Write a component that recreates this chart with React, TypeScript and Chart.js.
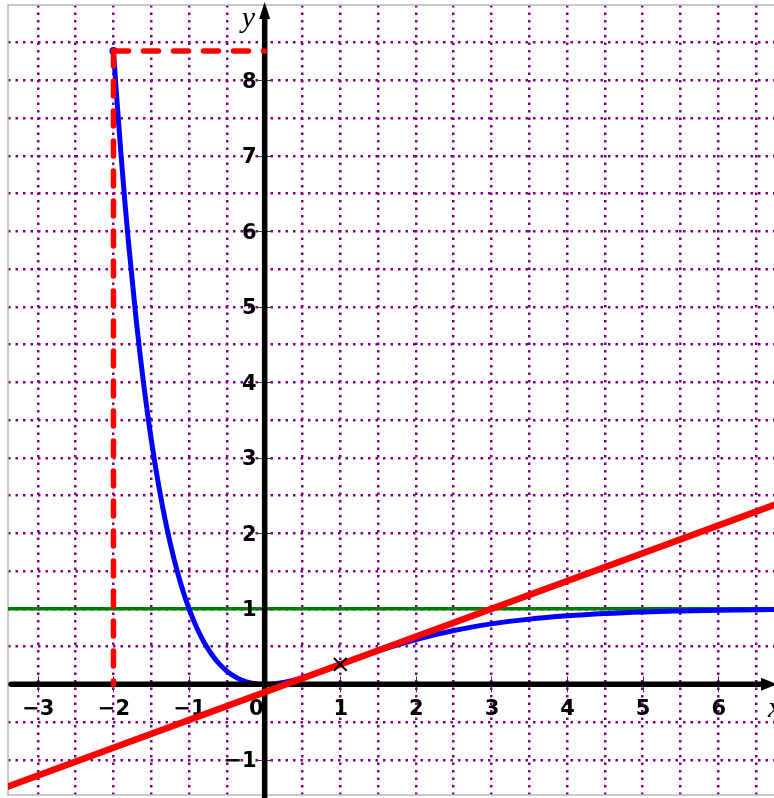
import { useEffect, useRef } from 'react';
import { Chart, registerables } from 'chart.js';

Chart.register(...registerables);

// Visible window of the plane
const X_MIN = -3.395;
const X_MAX = 6.737;
const Y_MIN = -1.466;
const Y_MAX = 9;

// f(x) sampled along the blue curve
const CURVE_X = [
  -2, -1.95, -1.9, -1.85, -1.8, -1.7, -1.6, -1.5, -1.4, -1.3, -1.2, -1.1, -1,
  -0.9, -0.8, -0.7, -0.6, -0.5, -0.4, -0.3, -0.2, -0.1, 0, 0.25, 0.5, 0.75, 1,
  1.5, 2, 2.5, 3, 3.5, 4, 4.5, 5, 5.5, 6, 6.5, 7,
];
const CURVE_Y = [
  8.389, 7.684, 7.017, 6.402, 5.84, 4.832, 3.972, 3.241, 2.622, 2.101, 1.664, 1.3, 1,
  0.754, 0.555, 0.396, 0.271, 0.176, 0.105, 0.055, 0.023, 0.005, 0, 0.026, 0.09, 0.173, 0.264,
  0.442, 0.594, 0.713, 0.801, 0.864, 0.908, 0.939, 0.96, 0.973, 0.983, 0.989, 0.993,
];

// Tangent line at x = 1
const TANGENT_X = [-3.5, 7];
const TANGENT_Y = [-1.391, 2.472];

// Horizontal asymptote y = 1
const ASYMPTOTE_X = [-3.5, 7];
const ASYMPTOTE_Y = [1, 1];

// Starting point of the curve and the point of tangency
const START_X = -2;
const START_Y = 8.389;
const TOUCH_X = 1;
const TOUCH_Y = 0.264;

// Axis graduations
const X_TICKS = [-3, -2, -1, 0, 1, 2, 3, 4, 5, 6];
const Y_TICKS = [-1, 1, 2, 3, 4, 5, 6, 7, 8];

const PURPLE = '#800080';
const CURVE_INDEX = 1;

const fmt = (v: number) => (v < 0 ? '\u2212' + Math.abs(v) : String(v));

// Scales only supply grid lines: they take no room in the layout
const noRoom = (s: any) => {
  if (s.isHorizontal()) s.height = 0;
  else s.width = 0;
  s.paddingTop = 0;
  s.paddingBottom = 0;
  s.paddingLeft = 0;
  s.paddingRight = 0;
};

const axesPlugin = {
  id: 'axes',
  beforeDatasetsDraw(chart: any) {
    const { ctx, chartArea } = chart;
    ctx.save();
    ctx.strokeStyle = '#b8b8b8';
    ctx.lineWidth = 1.5;
    ctx.strokeRect(chartArea.left, chartArea.top, chartArea.right - chartArea.left + 4, chartArea.bottom - chartArea.top);
    ctx.restore();
  },
  afterDatasetDraw(chart: any, args: any) {
    if (args.index !== CURVE_INDEX) return;
    const { ctx, chartArea, scales } = chart;
    const xs = scales.x;
    const ys = scales.y;
    const x0 = xs.getPixelForValue(0);
    const y0 = ys.getPixelForValue(0);
    ctx.save();

    // tick marks
    ctx.strokeStyle = '#3a3a3a';
    ctx.lineWidth = 1;
    ctx.beginPath();
    X_TICKS.forEach((v) => {
      if (v === 0) return;
      const px = Math.round(xs.getPixelForValue(v)) + 0.5;
      ctx.moveTo(px, y0 - 8);
      ctx.lineTo(px, y0 + 8);
    });
    Y_TICKS.forEach((v) => {
      const py = Math.round(ys.getPixelForValue(v)) + 0.5;
      ctx.moveTo(x0 - 8, py);
      ctx.lineTo(x0 + 8, py);
    });
    ctx.moveTo(x0, chartArea.bottom);
    ctx.lineTo(x0, chartArea.bottom + 4);
    ctx.stroke();

    // axis lines
    ctx.strokeStyle = '#000';
    ctx.fillStyle = '#000';
    ctx.lineWidth = 5.5;
    ctx.lineCap = 'round';
    ctx.beginPath();
    ctx.moveTo(chartArea.left + 3, y0);
    ctx.lineTo(chartArea.right - 8, y0);
    ctx.stroke();
    ctx.lineCap = 'butt';
    ctx.beginPath();
    ctx.moveTo(x0, chartArea.bottom + 3);
    ctx.lineTo(x0, chartArea.top + 10);
    ctx.stroke();

    // arrow heads
    ctx.beginPath();
    ctx.moveTo(chartArea.right + 3, y0);
    ctx.lineTo(chartArea.right - 13, y0 - 6.5);
    ctx.lineTo(chartArea.right - 13, y0 + 6.5);
    ctx.closePath();
    ctx.fill();
    ctx.beginPath();
    ctx.moveTo(x0, chartArea.top - 3);
    ctx.lineTo(x0 - 5.5, chartArea.top + 14);
    ctx.lineTo(x0 + 5.5, chartArea.top + 14);
    ctx.closePath();
    ctx.fill();

    // graduation labels
    ctx.font = 'bold 21px "DejaVu Sans"';
    ctx.textBaseline = 'alphabetic';
    X_TICKS.forEach((v) => {
      const px = xs.getPixelForValue(v);
      if (v === 0) {
        ctx.textAlign = 'right';
        ctx.fillText('0', x0 - 1, y0 + 31);
      } else {
        ctx.textAlign = 'center';
        ctx.fillText(fmt(v), px + 0.5, y0 + 31);
      }
    });
    ctx.textAlign = 'right';
    Y_TICKS.forEach((v) => {
      const py = ys.getPixelForValue(v);
      ctx.fillText(fmt(v), x0 - 8, py + 7.5);
    });

    // axis names
    ctx.font = 'italic 30px "Liberation Serif"';
    ctx.textAlign = 'left';
    ctx.fillText('y', x0 - 23, 27);
    ctx.fillText('x', chartArea.right - 6, y0 + 33);
    ctx.restore();
  },
};

export default function App() {
  const canvasRef = useRef<HTMLCanvasElement | null>(null);

  useEffect(() => {
    const canvas = canvasRef.current;
    if (!canvas) return;
    const pts = (xs: number[], ys: number[]) => xs.map((x, i) => ({ x, y: ys[i] }));

    const chart = new Chart(canvas, {
      type: 'line',
      data: {
        datasets: [
          {
            data: pts(ASYMPTOTE_X, ASYMPTOTE_Y),
            borderColor: '#008000',
            borderWidth: 3.5,
            pointRadius: 0,
            order: 7,
          },
          {
            data: pts(CURVE_X, CURVE_Y),
            borderColor: '#0000ff',
            borderWidth: 5,
            pointRadius: 0,
            cubicInterpolationMode: 'monotone',
            borderCapStyle: 'round',
            order: 6,
          },
          {
            data: [{ x: START_X, y: START_Y }],
            showLine: false,
            pointRadius: 4,
            pointBackgroundColor: '#0000ff',
            pointBorderWidth: 0,
            order: 5,
          },
          {
            data: pts(TANGENT_X, TANGENT_Y),
            borderColor: '#ff0000',
            borderWidth: 6.5,
            pointRadius: 0,
            order: 4,
          },
          {
            data: [{ x: START_X, y: START_Y }, { x: START_X, y: 0 }],
            borderColor: '#ff0000',
            borderWidth: 5.5,
            borderDash: [15, 15],
            borderCapStyle: 'round',
            pointRadius: 0,
            order: 3,
          },
          {
            data: [{ x: START_X, y: START_Y }, { x: 0, y: START_Y }],
            borderColor: '#ff0000',
            borderWidth: 5.5,
            borderDash: [15, 15],
            borderCapStyle: 'round',
            pointRadius: 0,
            order: 2,
          },
          {
            data: [{ x: TOUCH_X, y: TOUCH_Y }],
            showLine: false,
            pointStyle: 'crossRot',
            pointRadius: 9,
            pointBorderColor: '#000',
            pointBorderWidth: 2,
            order: 1,
          },
        ],
      },
      options: {
        animation: false,
        responsive: false,
        events: [],
        layout: { autoPadding: false, padding: { left: 8, top: 5, right: 0, bottom: 3 } },
        plugins: { legend: { display: false }, tooltip: { enabled: false } },
        scales: {
          x: {
            type: 'linear',
            min: X_MIN,
            max: X_MAX,
            afterFit: noRoom,
            ticks: { display: false, stepSize: 0.5, includeBounds: false },
            grid: { color: PURPLE, lineWidth: 2.5, drawTicks: false },
            border: { display: false, dash: [2.5, 5] },
          },
          y: {
            type: 'linear',
            min: Y_MIN,
            max: Y_MAX,
            afterFit: noRoom,
            ticks: { display: false, stepSize: 0.5, includeBounds: false },
            grid: {
              color: (c: any) => (c.tick && c.tick.value > 8.9 ? 'rgba(0,0,0,0)' : PURPLE),
              lineWidth: 2.5,
              drawTicks: false,
            },
            border: { display: false, dash: [2.5, 5] },
          },
        },
      },
      plugins: [axesPlugin],
    } as any);

    return () => chart.destroy();
  }, []);

  return (
    <div style={{ position: 'absolute', left: 0, top: 0, width: 774, height: 798, background: '#fff' }}>
      <canvas ref={canvasRef} width={774} height={798} style={{ display: 'block' }} />
    </div>
  );
}
